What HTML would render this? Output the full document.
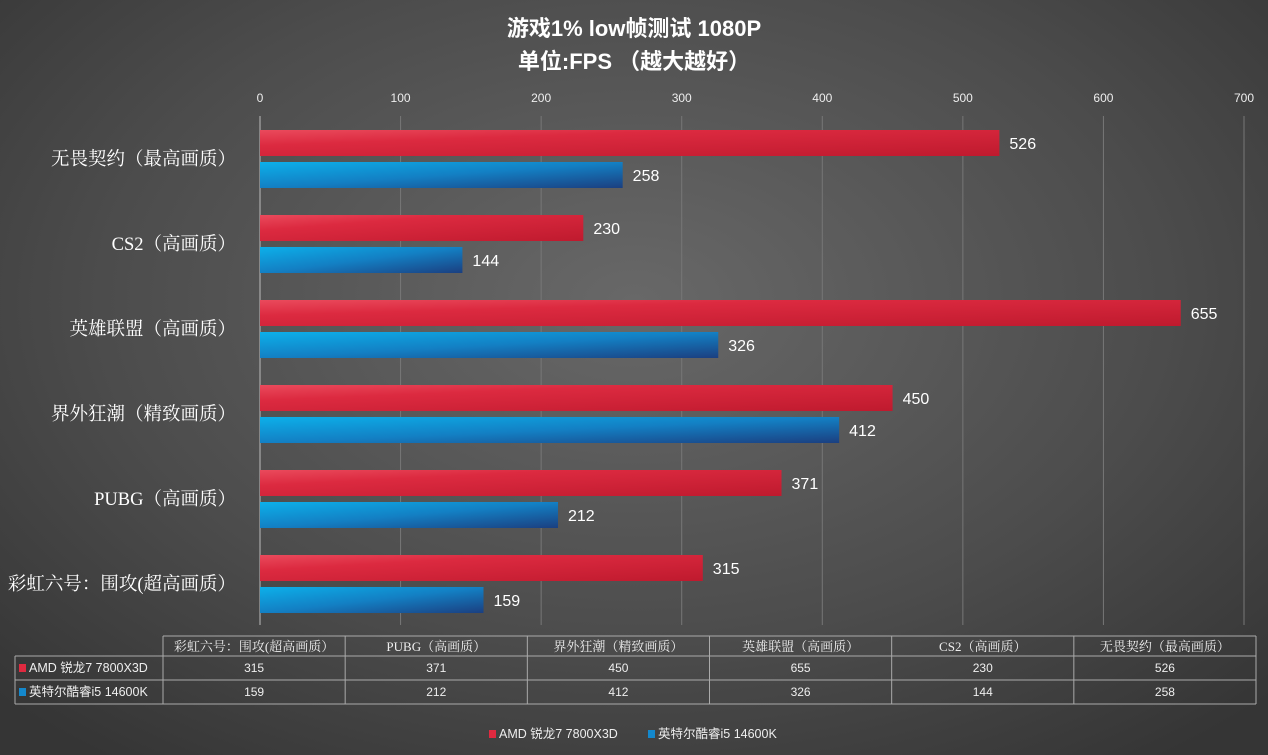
<!DOCTYPE html>
<html><head><meta charset="utf-8"><style>
body{margin:0;width:1268px;height:755px;overflow:hidden;background:radial-gradient(ellipse 70% 75% at 50% 40%,#686868 0%,#4c4c4c 60%,#353535 100%);font-family:"Liberation Sans","Noto Sans CJK SC",sans-serif;}
svg{position:absolute;left:0;top:0}
.serif{font-family:"Liberation Serif","Noto Serif CJK SC",serif}
</style></head><body>
<svg id="chart" width="1268" height="755">
<defs>
<linearGradient id="gr" x1="0" y1="0" x2="1" y2="1"><stop offset="0" stop-color="#ea4a5c"/><stop offset="0.3" stop-color="#dc2a40"/><stop offset="1" stop-color="#bf1a2e"/></linearGradient>
<linearGradient id="gb" x1="0" y1="0" x2="1" y2="1"><stop offset="0" stop-color="#0cb0ea"/><stop offset="0.5" stop-color="#1380c4"/><stop offset="1" stop-color="#1b3f80"/></linearGradient>
</defs>
<text x="634" y="36" text-anchor="middle" font-size="22" font-weight="bold" fill="#fff">游戏1% low帧测试 1080P</text>
<text x="634" y="69" text-anchor="middle" font-size="22" font-weight="bold" fill="#fff">单位:FPS （越大越好）</text>
<g id="grid"></g><g id="bars"></g><g id="tbl"></g>
</svg>
<script>
const categories=["无畏契约（最高画质）","CS2（高画质）","英雄联盟（高画质）","界外狂潮（精致画质）","PUBG（高画质）","彩虹六号：围攻(超高画质）"];
const amdValues=[526,230,655,450,371,315];
const intelValues=[258,144,326,412,212,159];
const ticks=[0,100,200,300,400,500,600,700];
const seriesNames=["AMD 锐龙7 7800X3D","英特尔酷睿i5 14600K"];
const NS="http://www.w3.org/2000/svg";
const X0=260,X1=1244,VMAX=700,TOP=116,BOT=625,GH=85,G0=116;
const xs=v=>X0+(X1-X0)*v/VMAX;
function mk(tag,attrs,parent,text){const e=document.createElementNS(NS,tag);for(const k in attrs)e.setAttribute(k,attrs[k]);if(text!==undefined)e.textContent=text;parent.appendChild(e);return e;}
const grid=document.getElementById('grid'),bars=document.getElementById('bars'),tbl=document.getElementById('tbl');
ticks.forEach(t=>{
 const l=mk('line',{x1:xs(t),x2:xs(t),y1:TOP,y2:BOT,stroke:t===0?'#bbb':'#777','stroke-width':1},grid);
 
 
 const tx=mk('text',{x:xs(t),y:102,'text-anchor':'middle','font-size':12,fill:'#eee'},grid,t);
 
 
});
categories.forEach((c,i)=>{
 const gy=G0+i*GH;
 const lab=mk('text',{x:236,y:gy+49,'text-anchor':'end','font-size':18.5,fill:'#fff',class:'serif'},bars,c);
 
 
 [[amdValues[i],'url(#gr)',14,'amd'],[intelValues[i],'url(#gb)',46,'intel']].forEach(([v,f,dy,s])=>{
  const r=mk('rect',{x:X0,y:gy+dy,width:xs(v)-X0,height:26,fill:f},bars);
  
  
  const t=mk('text',{x:xs(v)+10,y:gy+dy+19,'font-size':16,fill:'#fff'},bars,v);
  
  
 });
});
const TX0=15,TC=163,TX1=1256,CW=(TX1-TC)/6,R0=636,R1=656,R2=680,R3=704;
const ln=(a,b,c,d)=>mk('line',{x1:a,y1:b,x2:c,y2:d,stroke:'#aaa','stroke-width':1},tbl);
ln(TC,R0,TX1,R0);ln(TX0,R1,TX1,R1);ln(TX0,R2,TX1,R2);ln(TX0,R3,TX1,R3);ln(TX0,R1,TX0,R3);
for(let j=0;j<=6;j++)ln(TC+j*CW,R0,TC+j*CW,R3);
const order=[5,4,3,2,1,0];
order.forEach((k,j)=>{
 const cx=TC+j*CW+CW/2;
 const h=mk('text',{x:cx,y:R0+15,'text-anchor':'middle','font-size':13,fill:'#eee',class:'serif'},tbl,categories[k]);
 
 
 const a=mk('text',{x:cx,y:R1+16,'text-anchor':'middle','font-size':12,fill:'#eee'},tbl,amdValues[k]);
 
 
 const b=mk('text',{x:cx,y:R2+16,'text-anchor':'middle','font-size':12,fill:'#eee'},tbl,intelValues[k]);
 
 
});
[['#e02a40',R1,0],['#1488cc',R2,1]].forEach(([col,y,s])=>{
 const sw=mk('rect',{x:19,y:y+8,width:7,height:8,fill:col},tbl);
 
 
 const t=mk('text',{x:29,y:y+16,'font-size':12.5,fill:'#eee'},tbl,seriesNames[s]);
 
 
 const lx=s===0?489:648;
 const ls=mk('rect',{x:lx,y:730,width:7,height:8,fill:col},tbl);
 
 
 const lt=mk('text',{x:lx+10,y:738,'font-size':12.5,fill:'#eee'},tbl,seriesNames[s]);
 
 
});
</script>
</body></html>
